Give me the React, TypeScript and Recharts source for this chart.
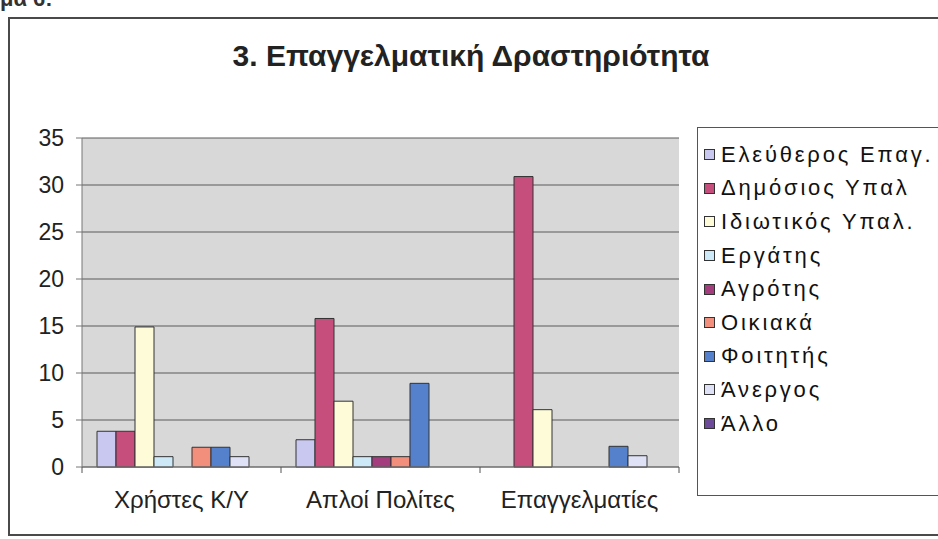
import { BarChart, Bar, XAxis, YAxis, CartesianGrid, Legend } from 'recharts';

const categories = ['Χρήστες Κ/Υ', 'Απλοί Πολίτες', 'Επαγγελματίες'];

const seriesNames = [
  'Ελεύθερος Επαγ.',
  'Δημόσιος Υπαλ',
  'Ιδιωτικός Υπαλ.',
  'Εργάτης',
  'Αγρότης',
  'Οικιακά',
  'Φοιτητής',
  'Άνεργος',
  'Άλλο',
];

// one value per category, same order as categories
const eleftheros = [3.8, 2.9, 0];
const dimosios = [3.8, 15.8, 30.9];
const idiotikos = [14.9, 7.0, 6.1];
const ergatis = [1.1, 1.1, 0];
const agrotis = [0, 1.1, 0];
const oikiaka = [2.1, 1.1, 0];
const foititis = [2.1, 8.9, 2.2];
const anergos = [1.1, 0, 1.2];
const allo = [0, 0, 0];

const yTicks = [0, 5, 10, 15, 20, 25, 30, 35];

const seriesValues = [eleftheros, dimosios, idiotikos, ergatis, agrotis, oikiaka, foititis, anergos, allo];
const colors = ['#c8c8f0', '#c54e7c', '#fdfbd8', '#cde9f8', '#a33d7e', '#f28f7c', '#5581cc', '#dfe2f6', '#6e4a9a'];

const data = categories.map((name, i) => {
  const row: Record<string, string | number> = { name };
  seriesNames.forEach((s, j) => {
    row[s] = seriesValues[j][i];
  });
  return row;
});

const FONT = '"Liberation Sans", Arial, sans-serif';

// category label + excel-style tick marks between categories
const CategoryTick = (props: any) => {
  const { x, y, payload, index, visibleTicksCount } = props;
  const half = payload.offset ?? 99.5;
  return (
    <g>
      <line x1={x - half} x2={x - half} y1={y} y2={y + 6} stroke="#555" />
      {index === visibleTicksCount - 1 && (
        <line x1={x + half} x2={x + half} y1={y} y2={y + 6} stroke="#555" />
      )}
      <text x={x} y={y + 41} textAnchor="middle" fontSize={24} fill="#222" fontFamily={FONT}>
        {payload.value}
      </text>
    </g>
  );
};

// legend keeps the series order (recharts would sort it by name)
const LegendBox = () => (
  <div
    style={{
      width: 250,
      height: 369,
      border: '1px solid #555',
      background: '#fff',
      boxSizing: 'border-box',
      paddingTop: 10,
      paddingLeft: 6,
      fontFamily: FONT,
    }}
  >
    {seriesNames.map((s, j) => (
      <div key={s} style={{ display: 'flex', alignItems: 'center', height: 33.6 }}>
        <span
          style={{
            width: 9,
            height: 9,
            background: colors[j],
            border: '1px solid #333',
            marginRight: 6,
            display: 'inline-block',
          }}
        />
        <span style={{ fontSize: 22, color: '#111', letterSpacing: 2.8, whiteSpace: 'nowrap' }}>{s}</span>
      </div>
    ))}
  </div>
);

export default function App() {
  return (
    <div style={{ position: 'fixed', left: 0, top: 0, width: 938, height: 539, background: '#fff', overflow: 'hidden' }}>
      <div
        style={{
          position: 'absolute',
          left: 0,
          top: -14,
          fontFamily: FONT,
          fontWeight: 'bold',
          fontSize: 22,
          color: '#333',
        }}
      >
        μα 6:
      </div>
      <div
        style={{
          position: 'absolute',
          left: 8,
          top: 17,
          width: 960,
          height: 519,
          border: '2px solid #4a4a4a',
          boxSizing: 'border-box',
        }}
      />
      <div
        style={{
          position: 'absolute',
          left: 0,
          top: 39,
          width: 938,
          textAlign: 'center',
          paddingLeft: 2,
          fontFamily: FONT,
          fontWeight: 'bold',
          fontSize: 30,
          color: '#222',
        }}
      >
        3. Επαγγελματική Δραστηριότητα
      </div>
      <div style={{ position: 'absolute', left: 0, top: 0 }}>
        <BarChart
          width={938}
          height={539}
          data={data}
          margin={{ top: 138, right: 259, bottom: 32, left: 0 }}
          barCategoryGap={15}
          barGap={0}
          style={{ fontFamily: FONT }}
        >
          <CartesianGrid vertical={false} stroke="#5a5a5a" fill="#d8d8d8" />
          <XAxis
            dataKey="name"
            height={40}
            tickLine={false}
            tickSize={0}
            tickMargin={0}
            axisLine={{ stroke: '#777' }}
            tick={<CategoryTick />}
            interval={0}
          />
          <YAxis
            width={82}
            domain={[0, 35]}
            ticks={yTicks}
            interval={0}
            tickSize={6}
            tickMargin={12}
            axisLine={{ stroke: '#777' }}
            tickLine={{ stroke: '#777' }}
            tick={{ fontSize: 23, fill: '#222', fontFamily: FONT }}
          />
          <YAxis
            yAxisId="frame"
            orientation="right"
            width={0}
            tick={false}
            tickLine={false}
            axisLine={{ stroke: '#999' }}
          />
          <Legend
            layout="vertical"
            align="center"
            verticalAlign="middle"
            content={<LegendBox />}
            wrapperStyle={{ left: 697, top: 127, width: 250, height: 369 }}
          />
          {seriesNames.map((s, j) => (
            <Bar key={s} dataKey={s} fill={colors[j]} stroke="#333" strokeWidth={1} isAnimationActive={false} />
          ))}
        </BarChart>
      </div>
    </div>
  );
}
